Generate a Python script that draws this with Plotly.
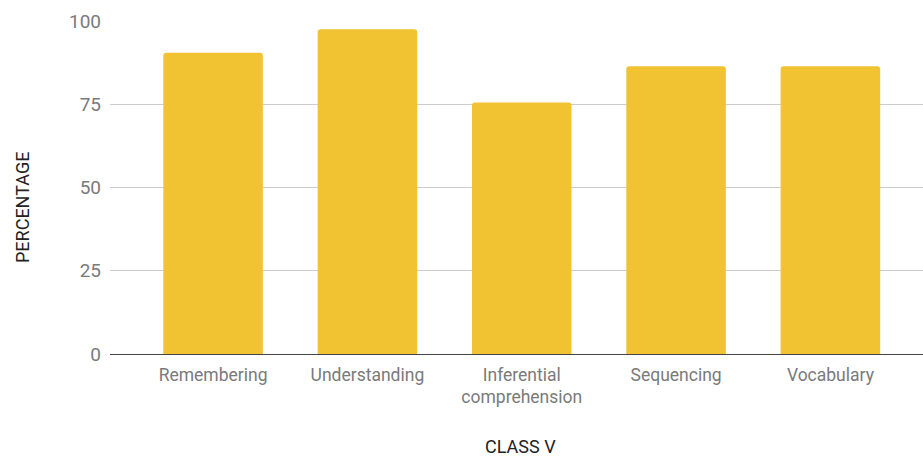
import plotly.graph_objects as go

categories = ["Remembering", "Understanding", "Inferential<br>comprehension", "Sequencing", "Vocabulary"]
values = [90.5, 97.5, 75.5, 86.4, 86.4]
y_ticks = [0, 25, 50, 75, 100]
x_title = "CLASS V"
y_title = "PERCENTAGE"

W, H = 923, 461
L, R, T, B = 110, 0, 21, 107
plot_w = W - L - R
plot_h = H - T - B

fig = go.Figure()
fig.add_trace(go.Bar(
    x=list(range(len(categories))),
    y=values,
    marker=dict(color="#F1C232", line=dict(width=0), cornerradius=3),
    hoverinfo="x+y",
))

fig.update_layout(
    width=W, height=H,
    margin=dict(l=L, r=R, t=T, b=B, pad=0),
    paper_bgcolor="white", plot_bgcolor="white",
    bargap=0.355,
    showlegend=False,
    font=dict(family="Roboto", size=17.5, color="#757575"),
    xaxis=dict(
        tickmode="array",
        tickvals=list(range(len(categories))),
        ticktext=categories,
        range=[-0.668, 4.6],
        showgrid=False,
        showline=False,
        zeroline=False,
        ticks="",
        ticklabelstandoff=8,
        tickfont=dict(family="Roboto", size=17.5, color="#7a7a7a"),
        fixedrange=True,
    ),
    yaxis=dict(
        range=[0, 100],
        tickmode="array",
        tickvals=y_ticks,
        ticktext=[str(v) for v in y_ticks],
        showgrid=True,
        gridcolor="#CCCCCC",
        gridwidth=1,
        zeroline=True,
        zerolinecolor="#444444",
        zerolinewidth=1.3,
        showline=False,
        ticks="",
        ticklabelstandoff=8,
        tickfont=dict(family="Roboto", size=19, color="#7a7a7a"),
        fixedrange=True,
    ),
    annotations=[
        dict(
            text=y_title, xref="paper", yref="paper",
            x=(22 - L) / plot_w, y=(H - B - 208) / plot_h,
            xanchor="center", yanchor="middle", textangle=-90,
            showarrow=False,
            font=dict(family="Roboto", size=18, color="#222222"),
        ),
        dict(
            text=x_title, xref="paper", yref="paper",
            x=(520 - L) / plot_w, y=(H - B - 446.5) / plot_h,
            xanchor="center", yanchor="middle",
            showarrow=False,
            font=dict(family="Roboto", size=18, color="#222222"),
        ),
    ],
)

fig.write_html(
    "out.html",
    config={"displayModeBar": False},
    post_script="document.body.style.margin='0';document.body.style.overflow='hidden';",
)
